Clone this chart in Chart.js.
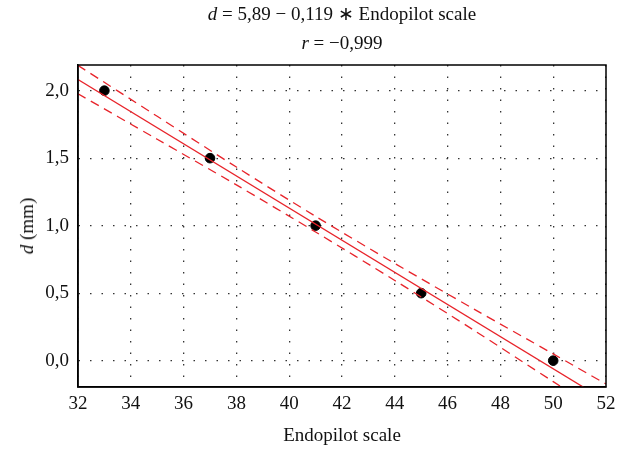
<!DOCTYPE html>
<html lang="en">
<head>
  <meta charset="UTF-8" />
  <title>Endopilot scale vs d</title>
  <script src="https://cdn.jsdelivr.net/npm/chart.js"></script>
  <style>
    body { margin: 0; background: #fff; }
    #wrap { position: relative; width: 629px; height: 449px; font-family: "Liberation Serif", serif; color: #111; }
    #chart { position: absolute; left: 0; top: 0; }
    .title { position: absolute; left: 78px; width: 528px; text-align: center; font-size: 19px; line-height: 20px; }
    #ylab { position: absolute; left: 27px; top: 226px; font-size: 19px; transform: translate(-50%, -50%) rotate(-90deg); white-space: nowrap; }
  </style>
</head>
<body>
  <div id="wrap">
    <canvas id="chart" width="629" height="449"></canvas>
    <div class="title" style="top: 4px;"><i>d</i> = 5,89 &minus; 0,119 &lowast; Endopilot scale</div>
    <div class="title" style="top: 33px;"><i>r</i> = &minus;0,999</div>
    <div id="ylab"><i>d</i> (mm)</div>
  </div>

  <script>
    // measured points
    const scaleX = [33, 37, 41, 45, 50];
    const dValues = [2.0, 1.5, 1.0, 0.5, 0.0];

    // regression line d = 5.89 - 0.119 * x, ends at the axis limits
    const fitX = [32, 52];
    const fitY = [2.082, -0.298];

    // confidence band
    const bandX = [32, 35, 38, 41, 44, 47, 50, 52];
    const bandUpper = [2.187, 1.810, 1.434, 1.069, 0.720, 0.382, 0.050, -0.173];
    const bandLower = [1.977, 1.640, 1.302, 0.953, 0.594, 0.225, -0.155, -0.405];

    const xTicks = [32, 34, 36, 38, 40, 42, 44, 46, 48, 50, 52];
    const yTicks = [0, 0.5, 1.0, 1.5, 2.0];

    const pts = (xs, ys) => xs.map((x, i) => ({ x: x, y: ys[i] }));
    const red = '#e8232a';
    const fontSpec = { family: '"Liberation Serif", serif', size: 19 };

    const ctx = document.getElementById('chart').getContext('2d');
    new Chart(ctx, {
      type: 'scatter',
      data: {
        datasets: [
          {
            label: 'fit',
            data: pts(fitX, fitY),
            showLine: true,
            borderColor: red,
            borderWidth: 1.3,
            pointRadius: 0
          },
          {
            label: 'upper',
            data: pts(bandX, bandUpper),
            showLine: true,
            borderColor: red,
            borderWidth: 1.3,
            borderDash: [9, 6],
            tension: 0.3,
            pointRadius: 0
          },
          {
            label: 'lower',
            data: pts(bandX, bandLower),
            showLine: true,
            borderColor: red,
            borderWidth: 1.3,
            borderDash: [9, 6],
            tension: 0.3,
            pointRadius: 0
          },
          {
            label: 'd',
            data: pts(scaleX, dValues),
            backgroundColor: '#000',
            borderColor: '#000',
            pointRadius: 4.8
          }
        ]
      },
      options: {
        responsive: false,
        animation: false,
        layout: { padding: { top: 65, right: 23, left: 0, bottom: 0 } },
        plugins: { legend: { display: false }, tooltip: { enabled: false } },
        scales: {
          x: {
            min: 32, max: 52,
            afterFit: s => { s.height = 62; },
            afterBuildTicks: s => { s.ticks = xTicks.map(v => ({ value: v })); },
            border: { color: '#000', width: 1.5, dash: [1.5, 10] },
            grid: { color: '#333', lineWidth: 1.3, drawTicks: false },
            ticks: { color: '#111', font: fontSpec, padding: 6, maxRotation: 0 },
            title: { display: true, text: 'Endopilot scale', color: '#111', font: fontSpec, padding: { top: 0, bottom: 2 } }
          },
          y: {
            min: -0.195, max: 2.19,
            afterFit: s => { s.width = 78; },
            afterBuildTicks: s => { s.ticks = yTicks.map(v => ({ value: v })); },
            border: { color: '#000', width: 1.5, dash: [1.5, 10] },
            grid: { color: '#333', lineWidth: 1.3, drawTicks: false },
            ticks: {
              color: '#111', font: fontSpec, padding: 9,
              callback: v => v.toFixed(1).replace('.', ',')
            }
          }
        }
      },
      plugins: [{
        id: 'frame',
        afterDraw(chart) {
          const a = chart.chartArea, c = chart.ctx;
          c.save();
          c.strokeStyle = '#000';
          c.lineWidth = 1.5;
          c.setLineDash([]);
          c.strokeRect(a.left, a.top, a.right - a.left, a.bottom - a.top);
          c.restore();
        }
      }]
    });
  </script>
</body>
</html>
